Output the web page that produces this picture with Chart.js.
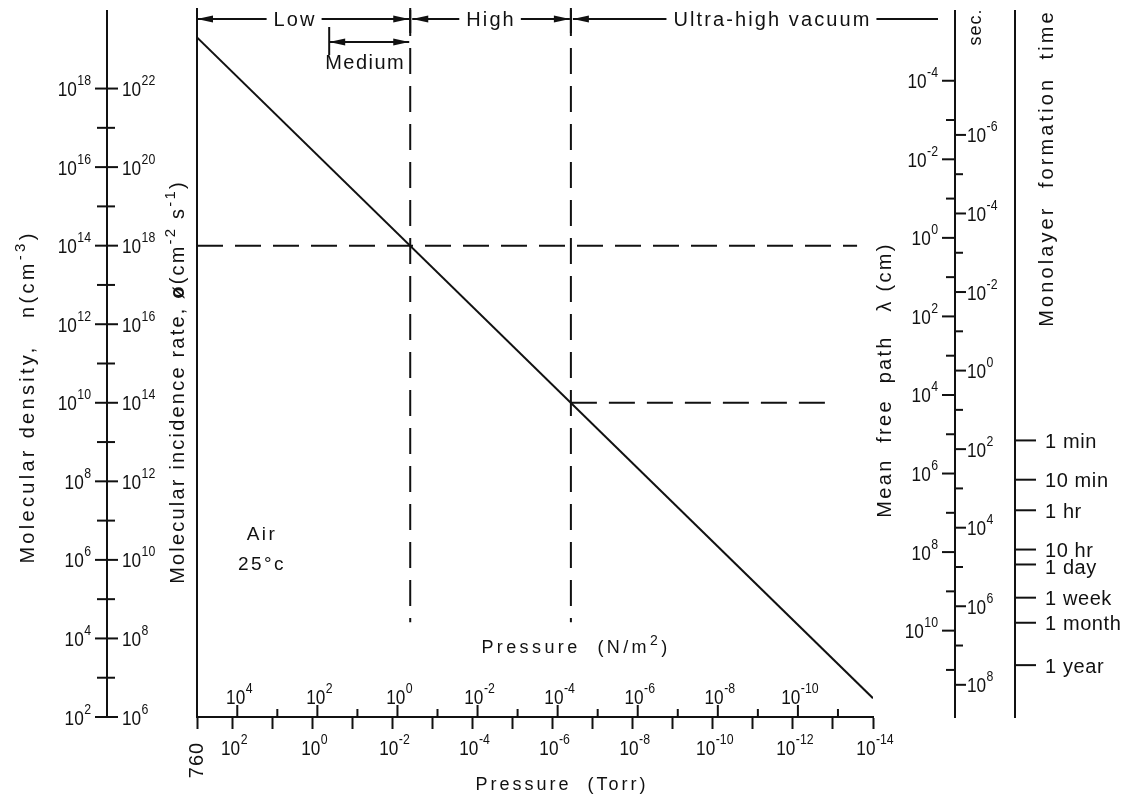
<!DOCTYPE html>
<html><head><meta charset="utf-8">
<script src="https://cdn.jsdelivr.net/npm/chart.js@4.4.1/dist/chart.umd.min.js"></script>
<style>html,body{margin:0;padding:0;background:#fff}canvas{display:block}</style>
</head><body>
<canvas id="c" width="1132" height="800"></canvas>
<script>
// ---------------- data ----------------
const pressureTorr = [760, 1e-14];
const molecularDensity = [2e19, 3e2];
const guideDensity = [1e14, 1e10];          // horizontal dashed levels (cm^-3)
const guideTorr = [3.6e-3, 3.5e-7];         // vertical dashed lines (Torr)
const guideHEndTorr = [2.5e-14, 8e-14];     // where the horizontal dashes stop
const guideVBottomDensity = 2.6e4;          // where the vertical dashes stop
const torrTickExp = [2, 0, -2, -4, -6, -8, -10, -12, -14];
const torrMinorExp = [1, -1, -3, -5, -7, -9, -11, -13];
const paTickExp = [4, 2, 0, -2, -4, -6, -8, -10];
const paMinorExp = [3, 1, -1, -3, -5, -7, -9, -11];
const densityLabelExp = [2, 4, 6, 8, 10, 12, 14, 16, 18];
const densityMinorExp = [3, 5, 7, 9, 11, 13, 15, 17];
const incidencePerDensity = 1e4;            // phi / n
const incidenceLabelExp = [6, 8, 10, 12, 14, 16, 18, 20, 22];
const mfpTimesDensity = 1.58e14;            // lambda * n
const mfpLabelExp = [-4, -2, 0, 2, 4, 6, 8, 10];
const mfpMinorExp = [-3, -1, 1, 3, 5, 7, 9, 11];
const monolayerTimesDensity = 6.6e10;       // tau * n
const secLabelExp = [-6, -4, -2, 0, 2, 4, 6, 8];
const secMinorExp = [-5, -3, -1, 1, 3, 5, 7];
const timeLabels = ['1 min', '10 min', '1 hr', '10 hr', '1 day', '1 week', '1 month', '1 year'];
const timeSeconds = [60, 600, 3600, 36000, 86400, 604800, 2.63e6, 3.156e7];
const rangeNames = ['Low', 'High', 'Ultra-high vacuum'];
const rangeStartTorr = [760, 3.6e-3, 3.5e-7];
const rangeEndTorr = [3.6e-3, 3.5e-7, null];
const mediumRangeTorr = [0.38, 3.6e-3];
const TORR_TO_PA = 133.32;

// ---------------- styles ----------------
const INK = '#111';
const FAM = '"Liberation Sans", Arial, sans-serif';
const F = (sz, w) => `${w || 'normal'} ${sz}px ${FAM}`;

function drawRich(ctx, parts, x, y, align) {
  let w = 0;
  for (const p of parts) { ctx.font = p.f; w += ctx.measureText(p.t).width; }
  let cx = align === 'center' ? x - w / 2 : align === 'right' ? x - w : x;
  ctx.textAlign = 'left';
  for (const p of parts) { ctx.font = p.f; ctx.fillText(p.t, cx, y + (p.dy || 0)); cx += ctx.measureText(p.t).width; }
}
const CONDENSE = 0.82;
function drawPow(ctx, e, x, yc, align) {
  ctx.save();
  ctx.letterSpacing = '0px';
  ctx.textBaseline = 'alphabetic';
  const parts = [{ t: '10', f: F(21) }, { t: ' ', f: F(2) }, { t: String(e), f: F(15), dy: -11 }];
  let w = 0;
  for (const p of parts) { ctx.font = p.f; w += ctx.measureText(p.t).width; }
  w *= CONDENSE;
  const x0 = align === 'center' ? x - w / 2 : align === 'right' ? x - w : x;
  ctx.translate(x0, yc + 7.5);
  ctx.scale(CONDENSE, 1);
  drawRich(ctx, parts, 0, 0, 'left');
  ctx.restore();
}
const sup = (t, sz) => ({ t, f: F(sz || 14), dy: -7 });
const txt = (t, sz, w) => ({ t, f: F(sz || 20, w) });

const extras = {
  id: 'extras',
  afterDraw(chart) {
    const ctx = chart.ctx, s = chart.scales;
    const X = s.x, Y = s.y, YI = s.yInc, YM = s.yMfp, YS = s.ySec, XP = s.xPa;
    const top = chart.chartArea.top, bot = chart.chartArea.bottom;
    ctx.save();
    ctx.strokeStyle = INK; ctx.fillStyle = INK; ctx.lineWidth = 2;
    const line = (x1, y1, x2, y2) => { ctx.beginPath(); ctx.moveTo(x1, y1); ctx.lineTo(x2, y2); ctx.stroke(); };
    const arrow = (tx, y, d) => { ctx.beginPath(); ctx.moveTo(tx, y); ctx.lineTo(tx - d * 16, y - 3.5); ctx.lineTo(tx - d * 16, y + 3.5); ctx.closePath(); ctx.fill(); };

    // ---- left double axis: density / incidence ----
    const LX = 107;
    line(LX, top, LX, bot + 1);
    densityLabelExp.forEach(e => { const yy = Y.getPixelForValue(10 ** e); line(LX - 12, yy, LX + 11, yy); drawPow(ctx, e, LX - 16, yy, 'right'); });
    densityMinorExp.forEach(e => { const yy = Y.getPixelForValue(10 ** e); line(LX - 10, yy, LX + 8, yy); });
    incidenceLabelExp.forEach(e => { const yy = YI.getPixelForValue(10 ** e); drawPow(ctx, e, LX + 15, yy, 'left'); });

    // ---- right double axis: mean free path / monolayer time (sec) ----
    const RX = 955;
    line(RX, top, RX, bot + 1);
    mfpLabelExp.forEach(e => { const yy = YM.getPixelForValue(10 ** e); line(RX - 13, yy, RX, yy); drawPow(ctx, e, RX - 17, yy, 'right'); });
    mfpMinorExp.forEach(e => { const yy = YM.getPixelForValue(10 ** e); line(RX - 9, yy, RX, yy); });
    secLabelExp.forEach(e => { const yy = YS.getPixelForValue(10 ** e); line(RX, yy, RX + 11, yy); drawPow(ctx, e, RX + 12, yy, 'left'); });
    secMinorExp.forEach(e => { const yy = YS.getPixelForValue(10 ** e); line(RX, yy, RX + 8, yy); });

    // ---- monolayer formation time axis ----
    const MX = 1015;
    line(MX, top, MX, bot + 1);
    ctx.letterSpacing = '0.6px';
    ctx.textBaseline = 'middle'; ctx.textAlign = 'left'; ctx.font = F(20);
    let lastY = -1e9;
    timeSeconds.forEach((t, i) => {
      const yy = YS.getPixelForValue(t);
      line(MX, yy, MX + 21, yy);
      const ly = Math.max(yy + 2, lastY + 17);
      ctx.fillText(timeLabels[i], MX + 30, ly);
      lastY = ly;
    });

    // ---- pressure N/m2 axis (inline above the Torr axis) ----
    paTickExp.forEach(e => { const xx = XP.getPixelForValue(10 ** e); line(xx, bot, xx, bot - 12); drawPow(ctx, e, xx + 2, bot - 21, 'center'); });
    paMinorExp.forEach(e => { const xx = XP.getPixelForValue(10 ** e); line(xx, bot, xx, bot - 8); });
    // Torr labels
    torrTickExp.forEach(e => { const xx = X.getPixelForValue(10 ** e); drawPow(ctx, e, xx + 2, bot + 30, 'center'); });

    // ---- titles ----
    const rot = (x, y, parts, sp) => {
      ctx.save(); ctx.translate(x, y); ctx.rotate(-Math.PI / 2);
      ctx.textBaseline = 'middle'; ctx.letterSpacing = sp;
      drawRich(ctx, parts, 0, 0, 'center'); ctx.restore();
    };
    rot(28, 397, [txt('Molecular density,   n(cm'), sup('-3', 15), txt(')')], '3.3px');
    rot(178, 382, [txt('Molecular incidence rate, '), txt('ø', 20, 'bold'), txt('(cm'), sup('-2', 15), txt(' s'), sup('-1', 15), txt(')')], '2.2px');
    rot(885, 380, [txt('Mean  free  path   λ (cm)')], '2.3px');
    rot(1047, 168, [txt('Monolayer  formation  time')], '3.1px');
    rot(976, 27, [txt('sec.', 18)], '1px');
    rot(197, 760, [txt('760')], '1px');

    ctx.textBaseline = 'middle';
    ctx.letterSpacing = '3.4px';
    drawRich(ctx, [txt('Pressure  (N/m', 18), sup('2', 14), txt(')', 18)], 576, 648, 'center');
    ctx.letterSpacing = '3px';
    drawRich(ctx, [txt('Pressure  (Torr)', 18)], 562, 785, 'center');
    ctx.letterSpacing = '2.5px';
    drawRich(ctx, [txt('Air', 19)], 262, 535, 'center');
    drawRich(ctx, [txt('25°c', 19)], 262, 565, 'center');

    // ---- vacuum ranges across the top ----
    const AY = 19;
    const labelShift = [-8, 0, 17];
    ctx.letterSpacing = '2.1px';
    rangeNames.forEach((name, i) => {
      const xa = X.getPixelForValue(rangeStartTorr[i]) + (i ? 2 : 0);
      const xb = rangeEndTorr[i] === null ? 938 : X.getPixelForValue(rangeEndTorr[i]) - 1;
      ctx.font = F(20);
      const tw = ctx.measureText(name).width;
      const tc = (xa + xb) / 2 + labelShift[i];
      line(xa, AY, tc - tw / 2 - 7, AY);
      line(tc + tw / 2 + 5, AY, xb, AY);
      arrow(xa, AY, -1);
      if (rangeEndTorr[i] !== null) { arrow(xb, AY, 1); line(xb + 1, 8, xb + 1, 33); }
      ctx.textBaseline = 'middle'; ctx.textAlign = 'left';
      ctx.fillText(name, tc - tw / 2, AY + 1);
    });
    line(X.getPixelForValue(760), 8, X.getPixelForValue(760), 20);
    const ma = X.getPixelForValue(mediumRangeTorr[0]), mb = X.getPixelForValue(mediumRangeTorr[1]) - 1;
    line(ma, 27, ma, 55);
    line(ma, 42, mb, 42);
    arrow(ma, 42, -1); arrow(mb, 42, 1);
    ctx.letterSpacing = '1.5px';
    drawRich(ctx, [txt('Medium', 20)], (ma + mb) / 2 - 4, 63, 'center');
    ctx.restore();
  }
};

const guideStyle = { showLine: true, borderColor: INK, borderWidth: 2, borderDash: [26, 12], pointRadius: 0, fill: false };
const datasets = [
  { data: pressureTorr.map((p, i) => ({ x: p, y: molecularDensity[i] })), showLine: true, borderColor: INK, borderWidth: 2, pointRadius: 0, fill: false },
  { ...guideStyle, data: [{ x: rangeStartTorr[0], y: guideDensity[0] }, { x: guideHEndTorr[0], y: guideDensity[0] }] },
  { ...guideStyle, data: [{ x: guideTorr[1], y: guideDensity[1] }, { x: guideHEndTorr[1], y: guideDensity[1] }] },
  { ...guideStyle, data: [{ x: guideTorr[0], y: 1e20 }, { x: guideTorr[0], y: guideVBottomDensity }] },
  { ...guideStyle, data: [{ x: guideTorr[1], y: 1e20 }, { x: guideTorr[1], y: guideVBottomDensity }] }
];

const torrTicks = [760].concat(torrTickExp.map(e => 10 ** e), torrMinorExp.map(e => 10 ** e));

new Chart(document.getElementById('c'), {
  type: 'scatter',
  data: { datasets },
  options: {
    responsive: false, animation: false, events: [],
    layout: { padding: { left: 197, right: 259, top: 10, bottom: 0 } },
    plugins: { legend: { display: false }, tooltip: { enabled: false } },
    scales: {
      x: {
        type: 'logarithmic', reverse: true, min: 1e-14, max: 760, position: 'bottom',
        afterBuildTicks: sc => { sc.ticks = torrTicks.map(v => ({ value: v })); },
        afterFit: sc => { sc.height = 83; },
        ticks: { display: false },
        grid: { display: true, drawOnChartArea: false, drawTicks: true, tickLength: 12, tickWidth: 2, tickColor: INK },
        border: { display: true, width: 2, color: INK }
      },
      y: {
        type: 'logarithmic', min: 1e2, max: 1e20, position: 'left',
        ticks: { display: false },
        grid: { display: true, drawOnChartArea: false, drawTicks: false },
        border: { display: true, width: 2, color: INK }
      },
      xPa: { axis: 'x', type: 'logarithmic', reverse: true, display: false, min: 1e-14 * TORR_TO_PA, max: 760 * TORR_TO_PA },
      yInc: { axis: 'y', type: 'logarithmic', display: false, min: 1e2 * incidencePerDensity, max: 1e20 * incidencePerDensity },
      yMfp: { axis: 'y', type: 'logarithmic', reverse: true, display: false, min: mfpTimesDensity / 1e20, max: mfpTimesDensity / 1e2 },
      ySec: { axis: 'y', type: 'logarithmic', reverse: true, display: false, min: monolayerTimesDensity / 1e20, max: monolayerTimesDensity / 1e2 }
    }
  },
  plugins: [extras]
});
</script>
</body></html>
